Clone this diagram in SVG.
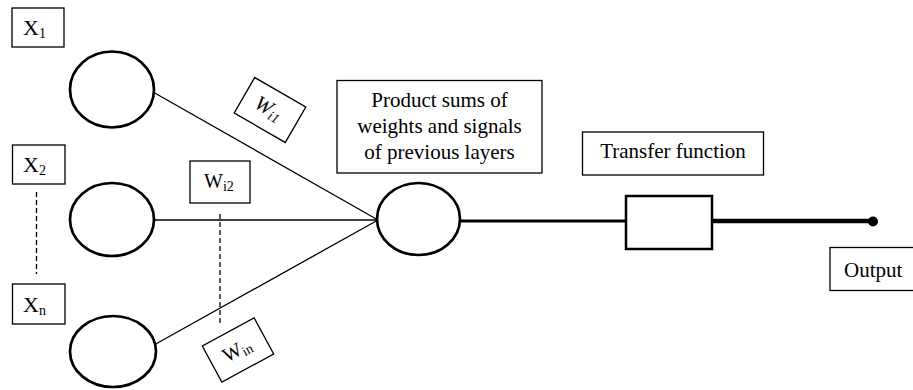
<svg xmlns="http://www.w3.org/2000/svg" width="913" height="390" viewBox="0 0 913 390">
<style>
text{font-family:"Liberation Serif","DejaVu Serif",serif;fill:#000}
.box{fill:#fff;stroke:#000;stroke-width:1.3}
.node{fill:#fff;stroke:#000;stroke-width:2.7}
.ln{stroke:#000;stroke-width:1.3;fill:none}
.dash{stroke:#000;stroke-width:1.3;stroke-dasharray:5,3;fill:none}
.lbl{font-size:21px}
.sub{font-size:14px}
</style>
<rect width="913" height="390" fill="#fff"/>
<g id="connectors">
<line class="ln" x1="153" y1="92" x2="378" y2="220"/>
<line class="ln" x1="154" y1="220" x2="378" y2="220"/>
<line class="ln" x1="154" y1="345" x2="378" y2="220"/>
<line class="dash" x1="36.5" y1="192" x2="36.5" y2="274"/>
<line class="dash" x1="220" y1="214" x2="220" y2="323"/>
<line x1="460" y1="221" x2="626" y2="221" stroke="#000" stroke-width="3"/>
<line x1="712" y1="221" x2="873" y2="221" stroke="#000" stroke-width="4.7"/>
<circle cx="873" cy="221.5" r="5" fill="#000"/>
</g>
<g id="x1"><rect class="box" x="12" y="8" width="52" height="39"/><text font-size="22" x="23" y="35">X<tspan class="sub" dy="3">1</tspan></text></g>
<g id="x2"><rect class="box" x="12.5" y="145" width="52.5" height="39"/><text font-size="22" x="23" y="172">X<tspan class="sub" dy="3">2</tspan></text></g>
<g id="xn"><rect class="box" x="12.5" y="284" width="52.5" height="40"/><text font-size="22" x="23" y="312">X<tspan class="sub" dy="3">n</tspan></text></g>
<g id="n1"><ellipse class="node" cx="112" cy="89.5" rx="42" ry="38"/></g>
<g id="n2"><ellipse class="node" cx="112" cy="219.5" rx="42" ry="36.5"/></g>
<g id="n3"><ellipse class="node" cx="113" cy="351.5" rx="43" ry="35.5"/></g>
<g id="sum"><ellipse class="node" cx="418.5" cy="219" rx="41.5" ry="36"/></g>
<g id="wi1" transform="translate(270,110) rotate(30)"><rect class="box" x="-29.5" y="-20.5" width="59" height="41"/><text x="-2" y="6" text-anchor="middle" font-size="21" font-style="italic">W<tspan class="sub" dy="3" font-style="italic">i1</tspan></text></g>
<g id="wi2"><rect class="box" x="190" y="161" width="60" height="42"/><text x="204" y="188" font-size="20">W<tspan class="sub" dy="3">i2</tspan></text></g>
<g id="win" transform="translate(238,350) rotate(-28.5)"><rect class="box" x="-29.5" y="-20.5" width="59" height="41"/><text x="-1" y="6" text-anchor="middle" font-size="20">W<tspan class="sub" dy="3">in</tspan></text></g>
<g id="product"><rect class="box" x="337" y="80.5" width="205" height="92.5"/><text class="lbl" x="439.5" text-anchor="middle"><tspan x="439.5" y="107">Product sums of</tspan><tspan x="439.5" y="133">weights and signals</tspan><tspan x="439.5" y="159">of previous layers</tspan></text></g>
<g id="transfer-label"><rect class="box" x="582.5" y="132" width="181" height="43"/><text class="lbl" x="673" y="158" text-anchor="middle">Transfer function</text></g>
<g id="transfer"><rect x="626" y="196" width="86" height="53" fill="#fff" stroke="#000" stroke-width="2.5"/></g>
<g id="output"><rect class="box" x="830" y="247.5" width="90" height="43"/><text class="lbl" x="844" y="277">Output</text></g>
</svg>
